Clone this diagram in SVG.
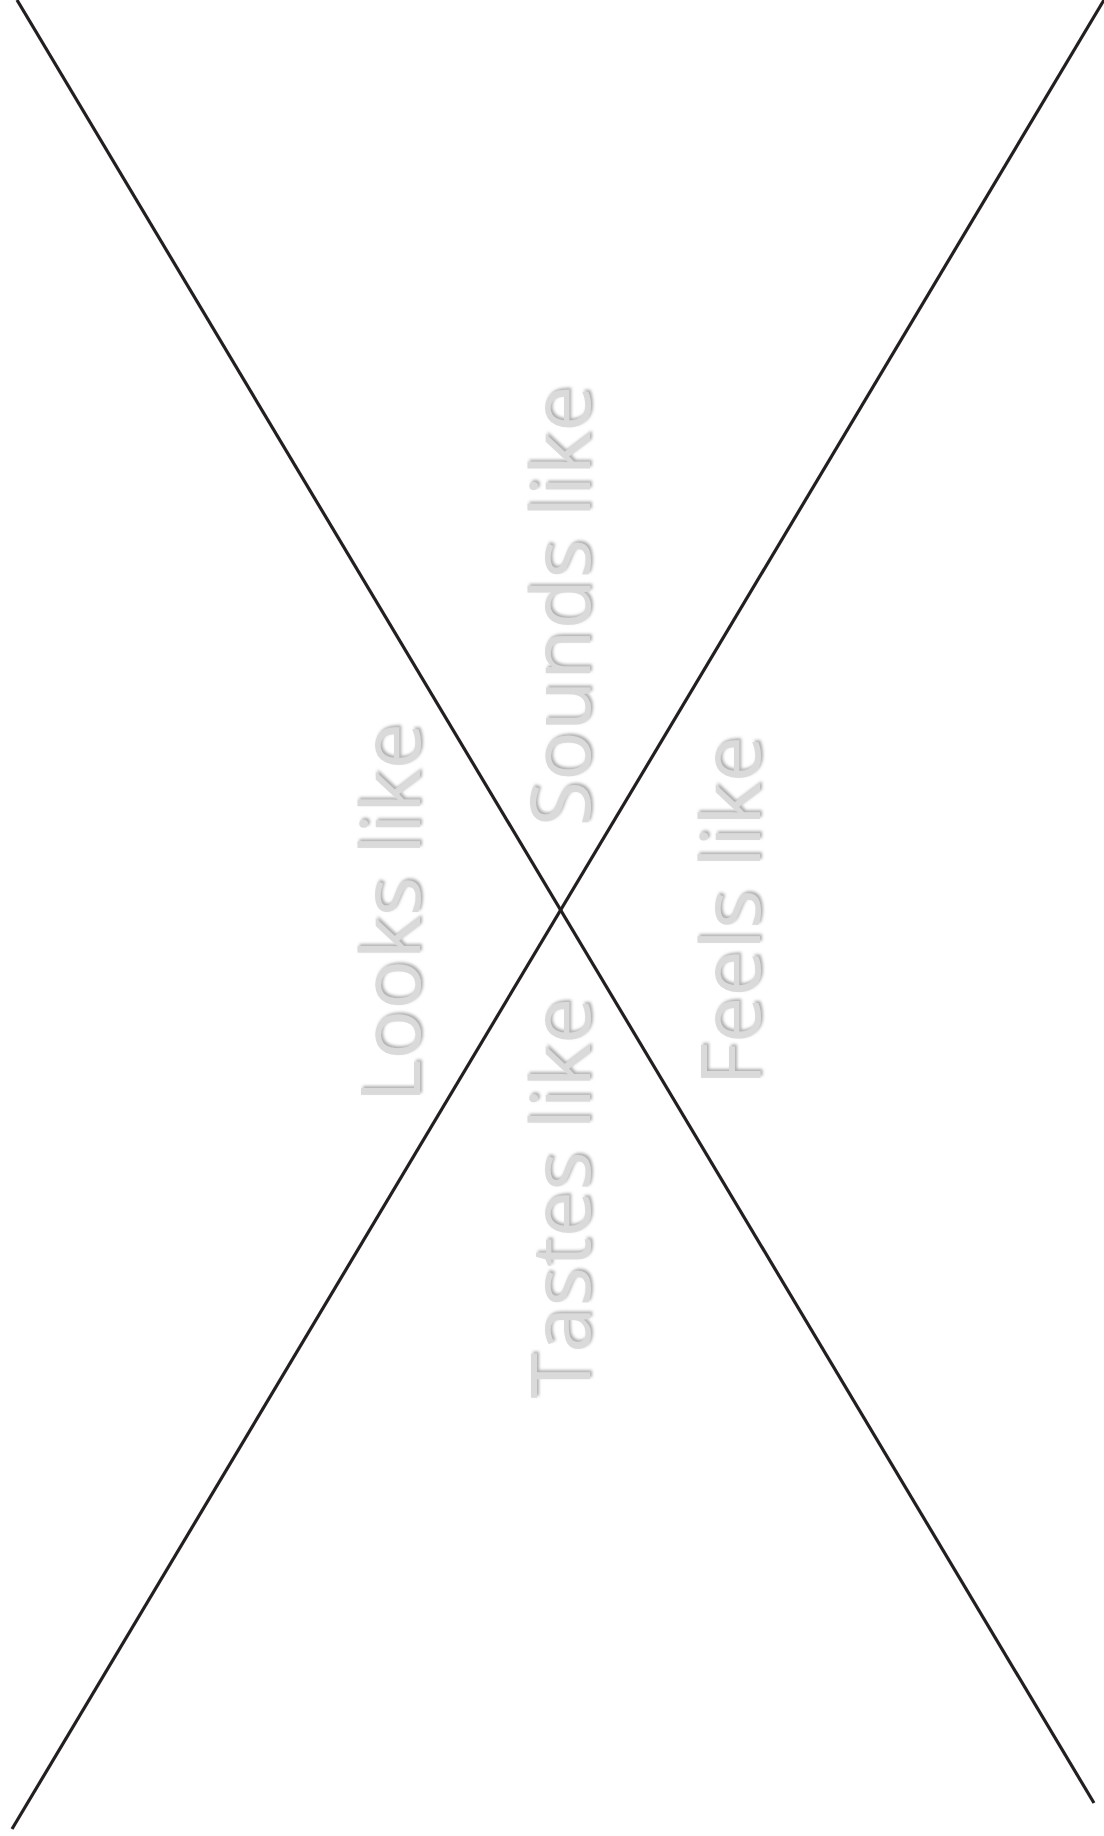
<svg xmlns="http://www.w3.org/2000/svg" width="1104" height="1836" viewBox="0 0 1104 1836">
<defs>
<filter id="sh" x="-10%" y="-10%" width="130%" height="130%">
<feDropShadow dx="2" dy="2" stdDeviation="1.5" flood-color="#8c8c8c" flood-opacity="0.7"/>
</filter>
<style>
.lbl{font-family:"Open Sans","Noto Sans","DejaVu Sans",sans-serif;font-size:83px;fill:#dadada;text-anchor:middle;filter:url(#sh)}
.ln{stroke:#231f20;stroke-width:3.2;fill:none}
</style>
</defs>
<rect width="1104" height="1836" fill="#ffffff"/>
<g id="connectors">
<line class="ln" x1="17" y1="0" x2="1094" y2="1803"/>
<line class="ln" x1="1104" y1="0" x2="12" y2="1829"/>
</g>
<g id="looks"><text class="lbl" transform="translate(420,913) rotate(-90)">Looks like</text></g>
<g id="sounds"><text class="lbl" transform="translate(590,606) rotate(-90)">Sounds like</text></g>
<g id="tastes"><text class="lbl" transform="translate(590,1198) rotate(-90)">Tastes like</text></g>
<g id="feels"><text class="lbl" transform="translate(760,911) rotate(-90)">Feels like</text></g>
</svg>
